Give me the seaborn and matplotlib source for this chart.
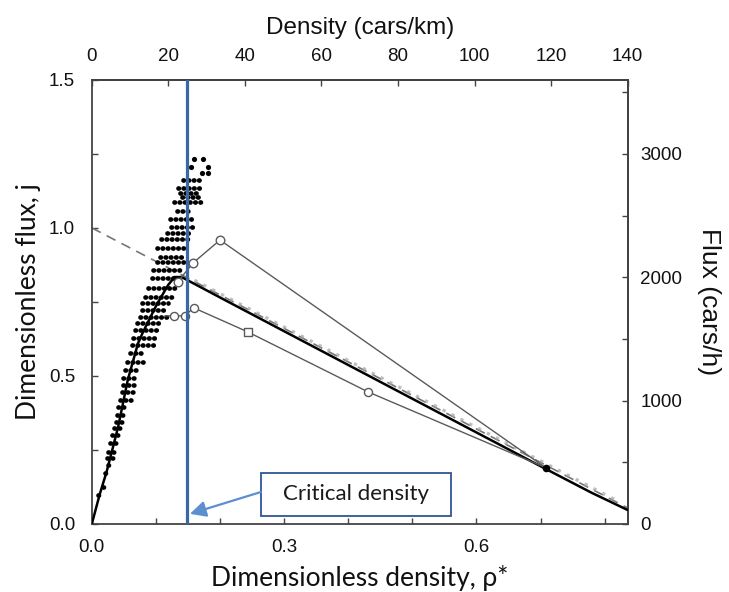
import numpy as np
import pandas as pd
import matplotlib
matplotlib.use("Agg")
import matplotlib.pyplot as plt
from matplotlib.patches import Rectangle
from matplotlib.ticker import FixedLocator, MultipleLocator
import seaborn as sns

# ---------------- data ----------------
# rows of measured points (each row: flux level, density range)
row_j  = [1.162, 1.135, 1.118, 1.105, 1.088, 1.057, 1.030, 1.003, 0.983, 0.963,
          0.932, 0.902, 0.885, 0.858, 0.831, 0.797, 0.767, 0.747, 0.723, 0.699,
          0.679, 0.655, 0.628, 0.605, 0.578, 0.547, 0.520, 0.493, 0.470, 0.446,
          0.419, 0.395, 0.368, 0.345, 0.324, 0.301, 0.274, 0.243, 0.223, 0.199,
          0.172, 0.125, 0.098]
row_lo = [0.142, 0.134, 0.137, 0.140, 0.128, 0.133, 0.122, 0.123, 0.117, 0.108,
          0.101, 0.106, 0.101, 0.095, 0.094, 0.087, 0.083, 0.078, 0.078, 0.075,
          0.070, 0.067, 0.064, 0.062, 0.059, 0.055, 0.051, 0.048, 0.048, 0.047,
          0.044, 0.041, 0.039, 0.037, 0.034, 0.031, 0.028, 0.025, 0.023, 0.025,
          0.020, 0.017, 0.009]
row_hi = [0.168, 0.172, 0.164, 0.172, 0.173, 0.156, 0.161, 0.158, 0.156, 0.153,
          0.148, 0.145, 0.145, 0.140, 0.134, 0.129, 0.125, 0.119, 0.114, 0.117,
          0.106, 0.101, 0.101, 0.098, 0.083, 0.080, 0.075, 0.072, 0.070, 0.067,
          0.062, 0.056, 0.055, 0.048, 0.047, 0.041, 0.039, 0.036, 0.033, 0.031,
          0.028, 0.025, 0.016]
# isolated top points
top_rho = [0.159, 0.173, 0.154, 0.181, 0.172, 0.181]
top_j   = [1.233, 1.233, 1.206, 1.206, 1.186, 1.186]

# model curve (solid)
curve_rho = [0.0, 0.012, 0.023, 0.031, 0.041, 0.056, 0.072, 0.080, 0.101, 0.119,
             0.129, 0.140, 0.207, 0.450, 0.708, 0.780, 0.836]
curve_j   = [0.0, 0.098, 0.176, 0.243, 0.328, 0.486, 0.610, 0.649, 0.740, 0.807,
             0.834, 0.834, 0.757, 0.480, 0.186, 0.105, 0.047]
# dashed line
dash_rho = [0.0, 0.836]
dash_j   = [1.0, 0.054]
# upper open-circle series
up_rho = [0.134, 0.158, 0.200, 0.708]
up_j   = [0.818, 0.882, 0.959, 0.190]
# lower open-circle series
lo_rho = [0.114, 0.128, 0.145, 0.159, 0.243, 0.431, 0.708]
lo_j   = [0.703, 0.703, 0.703, 0.730, 0.649, 0.446, 0.190]
lo_marker = ["none", "o", "o", "o", "s", "o", "none"]
# convergence point
conv_rho, conv_j = [0.708], [0.188]
# critical density
crit_rho = 0.148

# ---------------- style ----------------
sns.set_theme(style="white")
plt.rcParams["font.family"] = ["Liberation Sans Narrow", "Liberation Sans", "DejaVu Sans"]
label_font = ["Lato", "DejaVu Sans"]
narrow = ["Liberation Sans Narrow", "Liberation Sans", "DejaVu Sans"]

fig = plt.figure(figsize=(7.29, 5.92), dpi=100)
ax = fig.add_axes([0.126, 0.115, 0.735, 0.750])
ax.set_xlim(0, 0.836)
ax.set_ylim(0, 1.5)

# measured rows (dotted thick segments)
for j, a, b in zip(row_j, row_lo, row_hi):
    ax.plot([a, b], [j, j], color="black", lw=3.4,
            linestyle=(0, (0.1, 1.0)), dash_capstyle="round", zorder=3)
sns.scatterplot(x=top_rho, y=top_j, ax=ax, color="black", s=14, linewidth=0, zorder=3)

# dashed theory line
sns.lineplot(x=dash_rho, y=dash_j, ax=ax, color="#777777", lw=1.2,
             linestyle=(0, (6, 4)), sort=False, zorder=2)
# grey speckle along the congested branch
ax.plot([0.16, 0.82], [1.0 - 1.13 * 0.16 + 0.004, 1.0 - 1.13 * 0.82 + 0.004],
        color="#a5a5a5", lw=2.4, linestyle=(0, (1.0, 2.0)), alpha=0.7, zorder=2)
# solid model curve
sns.lineplot(x=curve_rho, y=curve_j, ax=ax, color="black", lw=1.8, sort=False, zorder=4)

# open circle series
sns.lineplot(x=up_rho, y=up_j, ax=ax, color="#5a5a5a", lw=1.0, sort=False, zorder=4)
sns.scatterplot(x=up_rho[:-1], y=up_j[:-1], ax=ax, marker="o", s=38,
                facecolor="white", edgecolor="#5a5a5a", linewidth=1.0, zorder=5)
sns.lineplot(x=lo_rho, y=lo_j, ax=ax, color="#5a5a5a", lw=1.0, sort=False, zorder=4)
lo_df = pd.DataFrame({"rho": lo_rho, "j": lo_j, "m": lo_marker})
for mk in ["o", "s"]:
    sub = lo_df[lo_df["m"] == mk]
    sns.scatterplot(data=sub, x="rho", y="j", ax=ax, marker=mk, s=34,
                    facecolor="white", edgecolor="#5a5a5a", linewidth=1.0, zorder=5)
sns.scatterplot(x=conv_rho, y=conv_j, ax=ax, color="black", s=30, linewidth=0, zorder=6)

# critical density line
ax.axvline(crit_rho, color="#3a67a6", lw=2.3, zorder=7)

# annotation box + arrow
ax.add_patch(Rectangle((0.264, 0.027), 0.296, 0.145, facecolor="white",
                       edgecolor="#2f5597", lw=1.3, zorder=8))
ax.text(0.412, 0.100, "Critical density", ha="center", va="center",
        fontsize=16, family=label_font, color="#1a1a1a", zorder=9)
ax.annotate("", xy=(0.153, 0.034), xytext=(0.264, 0.108),
            arrowprops=dict(arrowstyle="-|>", color="#5b8fd0", lw=1.6,
                            mutation_scale=24, shrinkA=0, shrinkB=0), zorder=9)

# ---------------- axes ----------------
for sp in ax.spines.values():
    sp.set_color("#444444")
    sp.set_linewidth(1.3)

ax.xaxis.set_major_locator(FixedLocator([0.0, 0.3, 0.6]))
ax.xaxis.set_minor_locator(FixedLocator([0.1, 0.2, 0.4, 0.5, 0.7, 0.8]))
ax.set_xticklabels(["0.0", "0.3", "0.6"])
ax.yaxis.set_major_locator(FixedLocator([0.0, 0.5, 1.0, 1.5]))
ax.yaxis.set_minor_locator(MultipleLocator(0.25))
ax.set_yticklabels(["0.0", "0.5", "1.0", "1.5"])
ax.tick_params(which="both", direction="in", length=4, width=1, color="#444444",
               labelsize=13.5, labelcolor="#111111", bottom=True, left=True)
ax.tick_params(axis="x", pad=11)
ax.tick_params(axis="y", pad=12)

K = 140 / 0.836
top = ax.secondary_xaxis("top", functions=(lambda r: r * K, lambda d: d / K))
top.xaxis.set_major_locator(FixedLocator(list(range(0, 141, 20))))
top.tick_params(direction="in", length=4, width=1, color="#444444",
                labelsize=13.5, labelcolor="#111111", pad=11)
top.set_xlabel("Density (cars/km)", fontsize=17.5, family=narrow, labelpad=10, color="#111111")

F = 2400.0
right = ax.secondary_yaxis("right", functions=(lambda j: j * F, lambda f: f / F))
right.yaxis.set_major_locator(FixedLocator([0, 1000, 2000, 3000]))
right.yaxis.set_minor_locator(MultipleLocator(500))
right.tick_params(which="both", direction="in", length=4, width=1, color="#444444",
                  labelsize=13.5, labelcolor="#111111", pad=9)
right.set_ylabel("Flux (cars/h)", fontsize=19, family=narrow, rotation=-90,
                 labelpad=28, color="#111111")

ax.set_xlabel("Dimensionless density, \u03c1*", fontsize=19, family=label_font,
              labelpad=6, color="#111111")
ax.set_ylabel("Dimensionless flux, j", fontsize=19, family=label_font,
              labelpad=6, color="#111111")

fig.savefig("out.png", dpi=100)
